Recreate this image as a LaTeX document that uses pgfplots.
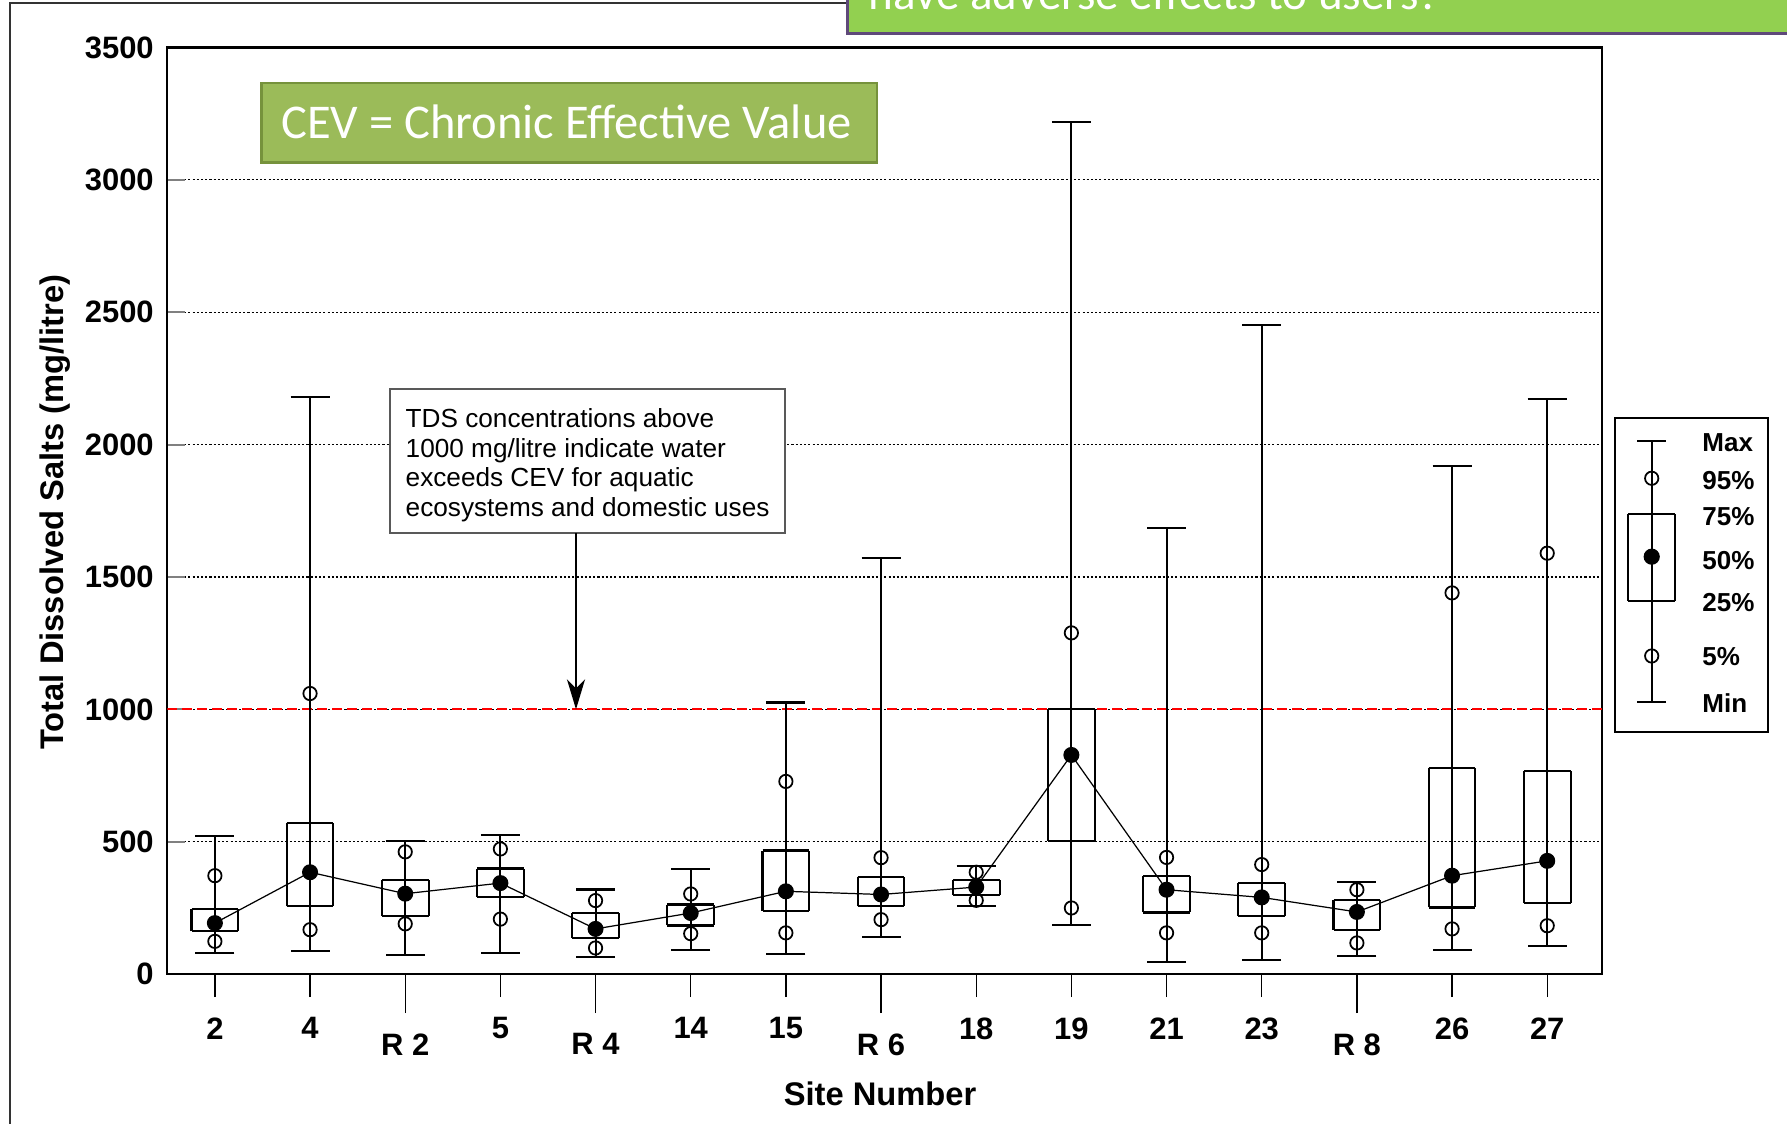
\documentclass[border=0pt]{standalone}
\usepackage{fontspec}
\setmainfont{Liberation Sans}
\newfontfamily\carlito{Carlito}
\usepackage{pgfplots}
\usepackage{pgfplotstable}
\pgfplotsset{compat=1.18}
\usetikzlibrary{arrows.meta}

\definecolor{cevfill}{RGB}{155,187,89}
\definecolor{cevborder}{RGB}{118,146,60}
\definecolor{hdrfill}{RGB}{146,208,80}
\definecolor{hdrborder}{RGB}{95,73,122}
\definecolor{annborder}{RGB}{89,89,89}

% site index, min, 5%, 25%, 50%, 75%, 95%, max
\pgfplotstableread{
idx min p05 q1 med q3 p95 max
0  79  124 162 193 245  372  523
1  86  168 256 385 570  1060 2181
2  71  190 220 304 355  462  504
3  79  208 293 344 399  473  527
4  66  99  138 171 230  278  320
5  91  153 184 231 263  303  397
6  75  156 240 313 467  728  1026
7  142 206 256 301 366  440  1573
8  256 279 300 329 357  385  410
9  187 250 504 828 1000 1289 3220
10 47  156 233 319 372  441  1685
11 55  156 220 290 346  414  2452
12 69  118 168 235 279  319  349
13 90  171 252 372 780  1440 1918
14 106 183 268 428 767  1590 2172
}\sitedata

\pgfplotsset{
  ebar/.style={draw=none, forget plot,
    error bars/y dir=both, error bars/y explicit,
    error bars/error bar style={line width=0.6pt, black, solid}},
}

\begin{document}
\begin{tikzpicture}[x=1cm,y=1cm]
\useasboundingbox (0,0) rectangle (17.87,11.24);
% slide frame
\draw[line width=0.6pt, black!80] (0.103,-1) -- (0.103,11.213) -- (9,11.213);
% header box (cut off at top)
\draw[line width=0.85pt, draw=hdrborder, fill=hdrfill] (8.475,10.90) rectangle (18.5,12);
\node[anchor=base west, text=white, inner sep=0, font=\carlito\fontsize{13.4}{16}\selectfont] at (8.68,11.14) {have adverse effects to users?};

\begin{axis}[
  at={(1.673cm,1.498cm)}, anchor=south west,
  width=14.351cm, height=9.267cm, scale only axis,
  xmin=-0.5, xmax=14.58, ymin=0, ymax=3500,
  axis line style={line width=0.6pt},
  xtick={0,1,3,5,6,8,9,10,11,13,14},
  xticklabels={2,4,5,14,15,18,19,21,23,26,27},
  extra x ticks={2,4,7,12},
  extra x tick labels={R 2,R 4,R 6,R 8},
  extra x tick style={major tick length=0.39cm},
  xtick align=outside, ytick align=inside,
  xtick pos=bottom, ytick pos=left,
  major tick length=0.23cm,
  ytick style={/pgfplots/major tick length=0.18cm, line width=0.6pt},
  xtick style={line width=0.4pt, black},
  ytick={0,500,...,3500},
  ymajorgrids,
  grid style={black, line width=0.3pt, dash pattern=on 0.6pt off 0.6pt},
  tick label style={font=\fontsize{8.8}{10}\selectfont\bfseries},
  xticklabel style={yshift=-0.08cm},
  yticklabel style={xshift=-0.012cm},
  /pgf/number format/assume math mode=true,
  /pgf/number format/1000 sep={},
]
\addplot[red, line width=0.6pt, dash pattern=on 1.0mm off 0.5mm, forget plot] coordinates {(-0.5,1000) (14.58,1000)};

% whiskers min -> max with caps
\addplot[ebar, error bars/error mark=|,
  error bars/error mark options={mark size=0.195cm, line width=0.6pt, black}]
  table[x=idx, y=med, y error plus expr=\thisrow{max}-\thisrow{med},
        y error minus expr=\thisrow{med}-\thisrow{min}]{\sitedata};
% box bottom and top edges
\addplot[ebar, error bars/error mark=|,
  error bars/error mark options={mark size=0.2335cm, line width=0.6pt, black}]
  table[x=idx, y=q1, y error plus expr=\thisrow{q3}-\thisrow{q1}, y error minus expr=0]{\sitedata};
% box sides
\addplot[ebar, error bars/error mark=none]
  table[x expr=\thisrow{idx}-0.2455, y=q1, y error plus expr=\thisrow{q3}-\thisrow{q1}, y error minus expr=0]{\sitedata};
\addplot[ebar, error bars/error mark=none]
  table[x expr=\thisrow{idx}+0.2455, y=q1, y error plus expr=\thisrow{q3}-\thisrow{q1}, y error minus expr=0]{\sitedata};

\addplot[only marks, mark=o, mark size=1.9pt, black, mark options={line width=0.5pt}, forget plot] table[x=idx, y=p95]{\sitedata};
\addplot[only marks, mark=o, mark size=1.9pt, black, mark options={line width=0.5pt}, forget plot] table[x=idx, y=p05]{\sitedata};
\addplot[black, line width=0.35pt, mark=*, mark size=2.1pt, mark options={fill=black, solid}, forget plot] table[x=idx, y=med]{\sitedata};
\end{axis}

% legend (its own small axis, units of 1cm)
\begin{axis}[
  at={(16.15cm,3.923cm)}, anchor=south west,
  width=1.533cm, height=3.134cm, scale only axis,
  xmin=0, xmax=1.533, ymin=0, ymax=3.134,
  xtick=\empty, ytick=\empty, axis line style={line width=0.6pt},
  clip=false,
]
\addplot[ebar, error bars/error mark=|,
  error bars/error mark options={mark size=0.145cm, line width=0.6pt, black}]
  coordinates {(0.367,1.75) += (0,1.157) -= (0,1.45)};
\addplot[ebar, error bars/error mark=|,
  error bars/error mark options={mark size=0.2335cm, line width=0.6pt, black}]
  coordinates {(0.367,1.307) += (0,0.87) -= (0,0)};
\addplot[ebar, error bars/error mark=none]
  coordinates {(0.1335,1.307) += (0,0.87) -= (0,0) (0.6005,1.307) += (0,0.87) -= (0,0)};
\addplot[only marks, mark=o, mark size=1.9pt, black, mark options={line width=0.5pt}] coordinates {(0.367,2.534) (0.367,0.757)};
\addplot[only marks, mark=*, mark size=2.1pt, black, mark options={fill=black}] coordinates {(0.367,1.75)};
\begin{scope}[every node/.style={anchor=west, inner sep=0, font=\fontsize{7.4}{9}\selectfont\bfseries}]
\node at (axis cs:0.867,2.89) {Max};
\node at (axis cs:0.867,2.507) {95\%};
\node at (axis cs:0.867,2.15) {75\%};
\node at (axis cs:0.867,1.71) {50\%};
\node at (axis cs:0.867,1.294) {25\%};
\node at (axis cs:0.867,0.75) {5\%};
\node at (axis cs:0.867,0.29) {Min};
\end{scope}
\end{axis}

% axis titles
\node[rotate=90, font=\fontsize{9.3}{11}\selectfont\bfseries] at (0.547,6.12) {Total Dissolved Salts (mg/litre)};
\node[font=\fontsize{9.3}{11}\selectfont\bfseries] at (8.80,0.30) {Site Number};

% annotation
\draw[annborder, line width=0.45pt, fill=white] (3.90,5.907) rectangle (7.85,7.35);
\begin{scope}[every node/.style={anchor=base west, inner sep=0, font=\fontsize{7.45}{9}\selectfont}]
\node at (4.05,6.967) {TDS concentrations above};
\node at (4.05,6.667) {1000 mg/litre indicate water};
\node at (4.05,6.374) {exceeds CEV for aquatic};
\node at (4.05,6.077) {ecosystems and domestic uses};
\end{scope}
\draw[line width=0.8pt, -{Stealth[length=3mm, width=1.8mm, inset=0.9mm]}] (5.76,5.907) -- (5.76,4.146);

% CEV box
\draw[cevborder, line width=0.77pt, fill=cevfill] (2.614,9.614) rectangle (8.77,10.41);
\node[anchor=base, text=white, inner sep=0, font=\carlito\fontsize{13.8}{16}\selectfont] at (5.665,9.857) {CEV = Chronic Effective Value};
\end{tikzpicture}
\end{document}
